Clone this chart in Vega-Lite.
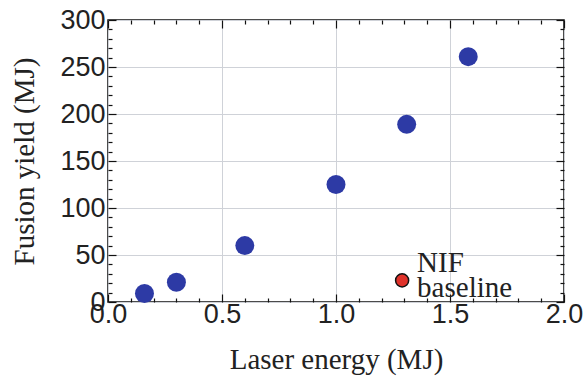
{
  "$schema": "https://vega.github.io/schema/vega-lite/v6.json",
  "width": 456,
  "height": 282,
  "autosize": "none",
  "padding": {"left": 108, "top": 20, "right": 21, "bottom": 75},
  "background": "white",
  "config": {
    "view": {"stroke": "#111", "strokeWidth": 1.5},
    "axis": {
      "domain": false,
      "labelFont": "Liberation Sans",
      "labelFontSize": 27,
      "labelColor": "#222",
      "titleFont": "Liberation Serif",
      "titleFontSize": 29,
      "titleFontWeight": "normal",
      "titleColor": "#222",
      "tickColor": "#111",
      "tickWidth": 1.2,
      "gridColor": "#cfd2d8",
      "gridWidth": 1,
      "labelFlush": false,
      "labelOverlap": false,
      "labelBound": false
    }
  },
  "datasets": {
    "pts": [
      {"energy": 0.16, "yield": 9, "kind": "projection"},
      {"energy": 0.3, "yield": 21, "kind": "projection"},
      {"energy": 0.6, "yield": 60, "kind": "projection"},
      {"energy": 1.0, "yield": 125, "kind": "projection"},
      {"energy": 1.31, "yield": 189, "kind": "projection"},
      {"energy": 1.58, "yield": 261, "kind": "projection"}
    ],
    "nif": [
      {"energy": 1.29, "yield": 23, "label": "NIF\nbaseline"}
    ]
  },
  "resolve": {"axis": {"x": "independent", "y": "independent"}},
  "layer": [
    {
      "data": {"name": "pts"},
      "mark": {"type": "point", "filled": true, "shape": "circle", "size": 360, "opacity": 1, "color": "#2d3aa5"},
      "encoding": {
        "x": {
          "field": "energy", "type": "quantitative",
          "scale": {"domain": [0, 2], "nice": false},
          "title": "Laser energy (MJ)",
          "axis": {
            "orient": "bottom",
            "values": [0,0.1,0.2,0.3,0.4,0.5,0.6,0.7,0.8,0.9,1.0,1.1,1.2,1.3,1.4,1.5,1.6,1.7,1.8,1.9,2.0],
            "labelExpr": "abs(datum.value*2 - round(datum.value*2)) < 0.001 ? format(datum.value, '.1f') : ''",
            "tickSize": {"condition": {"test": "abs(datum.value*2 - round(datum.value*2)) < 0.001", "value": -8}, "value": -4},
            "gridOpacity": {"condition": {"test": "abs(datum.value*2 - round(datum.value*2)) < 0.001", "value": 1}, "value": 0},
            "labelPadding": 7,
            "titlePadding": 14
          }
        },
        "y": {
          "field": "yield", "type": "quantitative",
          "scale": {"domain": [0, 300], "nice": false},
          "title": "Fusion yield (MJ)",
          "axis": {
            "orient": "left",
            "values": [0,10,20,30,40,50,60,70,80,90,100,110,120,130,140,150,160,170,180,190,200,210,220,230,240,250,260,270,280,290,300],
            "labelExpr": "datum.value % 50 == 0 ? format(datum.value, 'd') : ''",
            "tickSize": {"condition": {"test": "datum.value % 50 == 0", "value": -8}, "value": -4},
            "gridOpacity": {"condition": {"test": "datum.value % 50 == 0", "value": 1}, "value": 0},
            "labelPadding": 11,
            "titlePadding": 20
          }
        }
      }
    },
    {
      "data": {"name": "nif"},
      "mark": {"type": "point", "filled": true, "shape": "circle", "size": 170, "opacity": 1, "color": "#e0322a", "stroke": "#111", "strokeWidth": 1.5},
      "encoding": {
        "x": {
          "field": "energy", "type": "quantitative",
          "axis": {
            "orient": "top",
            "values": [0,0.1,0.2,0.3,0.4,0.5,0.6,0.7,0.8,0.9,1.0,1.1,1.2,1.3,1.4,1.5,1.6,1.7,1.8,1.9,2.0],
            "labels": false, "grid": false, "title": null,
            "tickSize": {"condition": {"test": "abs(datum.value*2 - round(datum.value*2)) < 0.001", "value": -8}, "value": -4}
          }
        },
        "y": {
          "field": "yield", "type": "quantitative",
          "axis": {
            "orient": "right",
            "values": [0,10,20,30,40,50,60,70,80,90,100,110,120,130,140,150,160,170,180,190,200,210,220,230,240,250,260,270,280,290,300],
            "labels": false, "grid": false, "title": null,
            "tickSize": {"condition": {"test": "datum.value % 50 == 0", "value": -8}, "value": -4}
          }
        }
      }
    },
    {
      "data": {"name": "nif"},
      "mark": {"type": "text", "align": "left", "baseline": "middle", "dx": 15, "dy": -17, "lineBreak": "\n", "lineHeight": 25, "font": "Liberation Serif", "fontSize": 29, "color": "#222"},
      "encoding": {
        "x": {"field": "energy", "type": "quantitative", "axis": null},
        "y": {"field": "yield", "type": "quantitative", "axis": null},
        "text": {"field": "label"}
      }
    }
  ]
}
